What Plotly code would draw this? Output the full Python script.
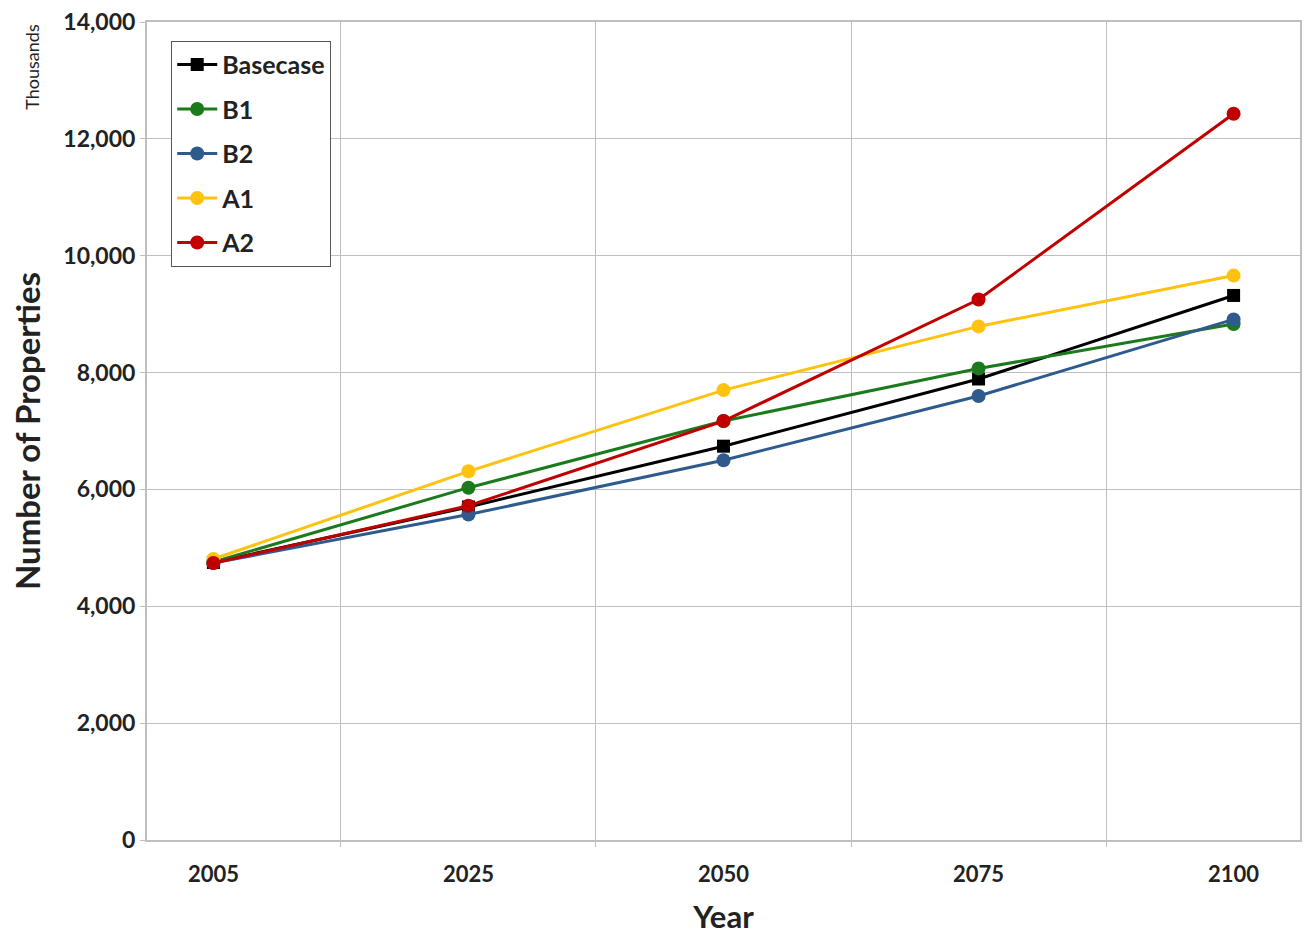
import plotly.graph_objects as go

years = ["2005", "2025", "2050", "2075", "2100"]
basecase = [4750, 5700, 6740, 7890, 9320]
b1 = [4760, 6030, 7170, 8070, 8830]
b2 = [4740, 5570, 6500, 7600, 8910]
a1 = [4810, 6310, 7700, 8790, 9660]
a2 = [4740, 5720, 7170, 9250, 12430]

series = [
    ("Basecase", basecase, "#000000", "square"),
    ("B1", b1, "#1B7A1B", "circle"),
    ("B2", b2, "#2F5A8E", "circle"),
    ("A1", a1, "#FFC20E", "circle"),
    ("A2", a2, "#C00000", "circle"),
]

font_family = "Lato, 'Open Sans', sans-serif"

fig = go.Figure()
for name, vals, color, sym in series:
    fig.add_trace(go.Scatter(
        x=years, y=vals, name=name, mode="lines+markers", legendgroup=name,
        line=dict(color=color, width=3),
        marker=dict(color=color, size=14 if sym == "circle" else 13, symbol=sym),
    ))

fig.update_layout(
    width=1296, height=931,
    paper_bgcolor="white", plot_bgcolor="white",
    margin=dict(l=139, r=4, t=14, b=99),
    font=dict(family=font_family, color="#222222"),
    showlegend=True,
    legend=dict(
        x=0.021, y=0.977, xanchor="left", yanchor="top",
        bgcolor="white", bordercolor="#555555", borderwidth=1,
        font=dict(size=25, family=font_family, color="#222222", weight="bold"),
        tracegroupgap=9, itemwidth=40,
    ),
)
fig.update_xaxes(
    type="category", tickson="boundaries", automargin=False,
    showgrid=True, gridcolor="#BFBFBF", gridwidth=1,
    showline=True, linecolor="#BFBFBF", linewidth=2, mirror=True,
    ticks="outside", ticklen=5, tickcolor="#BFBFBF",
    ticklabelstandoff=14,
    tickfont=dict(size=22, weight="bold", color="#222222"),
    title=dict(text="Year", font=dict(size=31, weight="bold", color="#222222"), standoff=20),
)
fig.update_yaxes(
    range=[0, 14000], dtick=2000, tickformat=",d", automargin=False,
    showgrid=True, gridcolor="#BFBFBF", gridwidth=1,
    showline=True, linecolor="#BFBFBF", linewidth=2, mirror=True,
    ticks="outside", ticklen=5, tickcolor="#BFBFBF",
    ticklabeloverflow="allow",
    tickfont=dict(size=23, weight="bold", color="#222222"),
    zeroline=False,
)
fig.add_annotation(
    text="<b>Number of Properties</b>", xref="paper", yref="paper", x=-0.104, y=0.5,
    xanchor="center", yanchor="middle", textangle=-90, showarrow=False,
    font=dict(size=33, color="#222222", family=font_family),
)
fig.add_annotation(
    text="Thousands", xref="paper", yref="paper", x=-0.1, y=1.0,
    xanchor="center", yanchor="top", textangle=-90, showarrow=False,
    font=dict(size=18, color="#222222", family=font_family),
)

fig.write_html("out.html")
